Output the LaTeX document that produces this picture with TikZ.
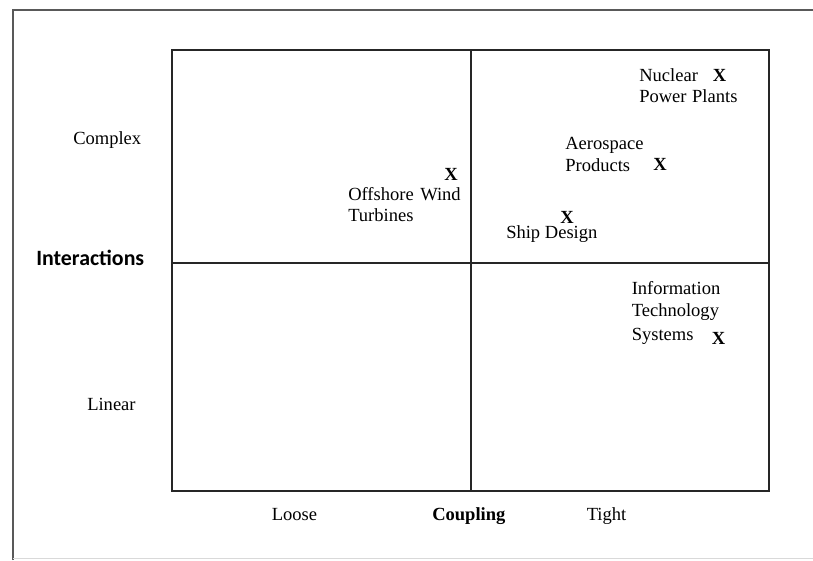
\documentclass[tikz,border=0pt]{standalone}
\usepackage{fontspec}
\setmainfont{Liberation Serif}
\newfontfamily\axisfont{Carlito}
\begin{document}
\begin{tikzpicture}[x=0.75pt,y=-0.75pt,
  lbl/.style={anchor=base west,inner sep=0pt,font=\fontsize{13.9}{16}\selectfont},
  mark x/.style={anchor=base west,inner sep=0pt,font=\fontsize{13.9}{16}\selectfont\bfseries},
  grid line/.style={line width=1.5pt,black!85},
  frame line/.style={line width=2.2pt,black!65}]
\useasboundingbox (0,0) rectangle (813,560);
% page frame
\draw[frame line] (13,560) -- (13,10) -- (813,10);
\draw[line width=0.6pt,black!15] (13,558.5) -- (813,558.5);
% quadrant box
\coordinate (tl) at (172,50);
\coordinate (br) at (769,491);
\coordinate (mt) at (471,50);
\coordinate (mb) at (471,491);
\coordinate (ml) at (172,263);
\coordinate (mr) at (769,263);
\draw[grid line] (tl) rectangle (br);
\draw[grid line] (mt) -- (mb);
\draw[grid line] (ml) -- (mr);
% axis labels
\node[lbl] (complex) at (73,144) {Complex};
\node[lbl] (linear) at (87,410.5) {Linear};
\node[anchor=base west,inner sep=0pt,font=\axisfont\fontsize{16.4}{19}\selectfont\bfseries] (inter) at (36,265) {Interactions};
\node[lbl] (loose) at (271.5,520.5) {Loose};
\node[mark x] (coupling) at (432,520.5) {Coupling};
\node[lbl] (tight) at (586.5,520.5) {Tight};
% systems
\node[mark x] (xoff) at (444,180.5) {X};
\node[lbl] (off1) at (348,200) {Offshore\hspace{0.35em}Wind};
\node[lbl] (off2) at (348,221.5) {Turbines};
\node[lbl] (nuc1) at (639,81.5) {Nuclear};
\node[mark x] (xnuc) at (712.5,81.5) {X};
\node[lbl] (nuc2) at (639,103) {Power\hspace{0.3em}Plants};
\node[lbl] (aer1) at (565,149.3) {Aerospace};
\node[lbl] (aer2) at (565,171.5) {Products};
\node[mark x] (xaer) at (653,170) {X};
\node[mark x] (xship) at (560,223.5) {X};
\node[lbl] (ship) at (506,238) {Ship Design};
\node[lbl] (it1) at (631.5,294) {Information};
\node[lbl] (it2) at (631.5,316.5) {Technology};
\node[lbl] (it3) at (631.5,340) {Systems};
\node[mark x] (xit) at (711.5,344) {X};
\end{tikzpicture}
\end{document}
